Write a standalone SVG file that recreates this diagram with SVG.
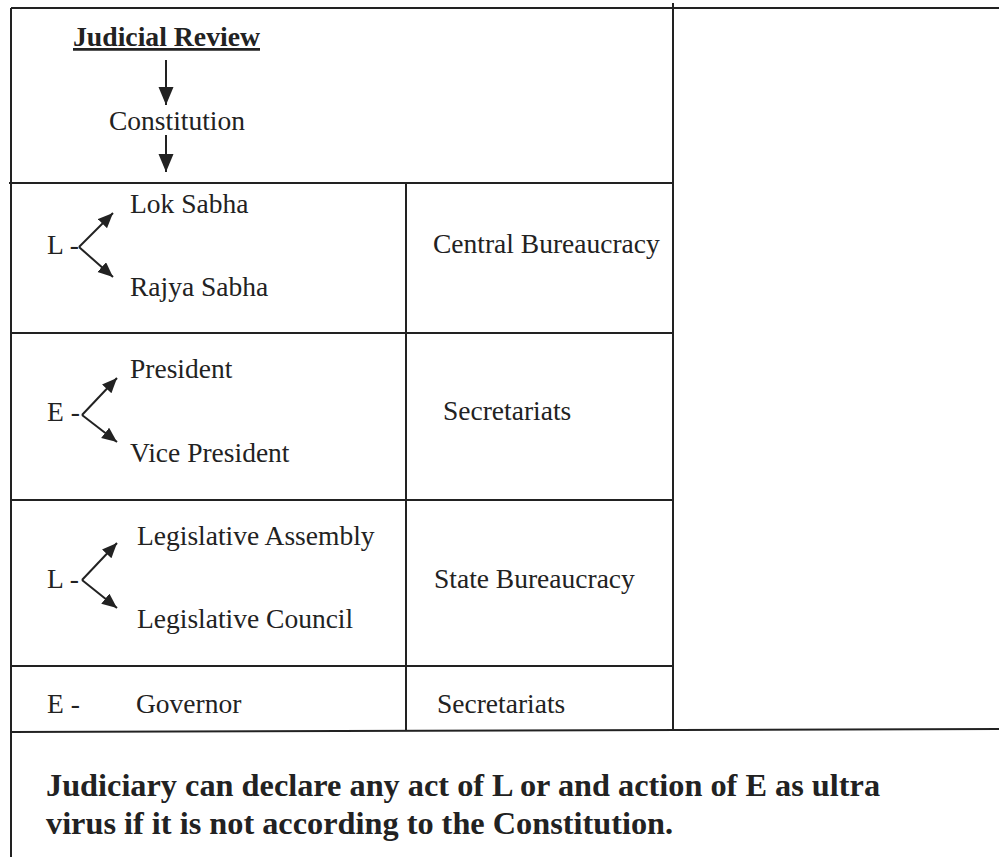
<svg xmlns="http://www.w3.org/2000/svg" width="999" height="857" viewBox="0 0 999 857">
<style>
.ln{stroke:#222;stroke-width:2;fill:none}
.t{font-family:"Liberation Serif","Times New Roman",serif;font-size:27.5px;fill:#222}
.b{font-family:"Liberation Serif","Times New Roman",serif;font-weight:bold;fill:#222}
.ar{stroke:#222;stroke-width:2;fill:none}
</style>
<defs>
<marker id="ah" markerUnits="userSpaceOnUse" markerWidth="19" markerHeight="17" refX="18" refY="7.5" orient="auto">
<path d="M0,0 L18,7.5 L0,15 z" fill="#222"/>
</marker>
<marker id="ahs" markerUnits="userSpaceOnUse" markerWidth="16" markerHeight="14" refX="15" refY="6.5" orient="auto">
<path d="M0,0 L15,6.5 L0,13 z" fill="#222"/>
</marker>
</defs>
<rect width="999" height="857" fill="#fff"/>
<g id="grid">
<line class="ln" x1="11" y1="8" x2="999" y2="8"/>
<line class="ln" x1="11" y1="8" x2="11" y2="857"/>
<line class="ln" x1="673" y1="3" x2="673" y2="730"/>
<line class="ln" x1="9" y1="183" x2="673" y2="183"/>
<line class="ln" x1="11" y1="333" x2="673" y2="333"/>
<line class="ln" x1="11" y1="500" x2="673" y2="500"/>
<line class="ln" x1="11" y1="666" x2="673" y2="666"/>
<line class="ln" x1="406" y1="183" x2="406" y2="730"/>
<line class="ln" x1="11" y1="732" x2="999" y2="729"/>
</g>
<g id="connectors">
<line class="ar" x1="166" y1="60" x2="166" y2="105" marker-end="url(#ah)"/>
<line class="ar" x1="166" y1="135" x2="166" y2="172" marker-end="url(#ah)"/>
<line class="ar" x1="79" y1="247" x2="113" y2="213" marker-end="url(#ahs)"/>
<line class="ar" x1="79" y1="247" x2="113" y2="277" marker-end="url(#ahs)"/>
<line class="ar" x1="82" y1="415" x2="117" y2="378" marker-end="url(#ahs)"/>
<line class="ar" x1="82" y1="415" x2="117" y2="442" marker-end="url(#ahs)"/>
<line class="ar" x1="82" y1="580" x2="117" y2="543" marker-end="url(#ahs)"/>
<line class="ar" x1="82" y1="580" x2="117" y2="608" marker-end="url(#ahs)"/>
</g>
<g id="judicial-review">
<text class="b" x="73" y="46" font-size="27.5" text-decoration="underline" textLength="187" lengthAdjust="spacingAndGlyphs">Judicial Review</text>
</g>
<g id="constitution">
<text class="t" x="109" y="130">Constitution</text>
</g>
<g id="union-legislature">
<text class="t" x="47" y="254">L -</text>
<text class="t" x="130" y="213">Lok Sabha</text>
<text class="t" x="130" y="296">Rajya Sabha</text>
</g>
<g id="central-bureaucracy">
<text class="t" x="433" y="253">Central Bureaucracy</text>
</g>
<g id="union-executive">
<text class="t" x="47" y="421">E -</text>
<text class="t" x="130" y="378">President</text>
<text class="t" x="130" y="462">Vice President</text>
</g>
<g id="secretariats-1">
<text class="t" x="443" y="420">Secretariats</text>
</g>
<g id="state-legislature">
<text class="t" x="47" y="588">L -</text>
<text class="t" x="137" y="545">Legislative Assembly</text>
<text class="t" x="137" y="628">Legislative Council</text>
</g>
<g id="state-bureaucracy">
<text class="t" x="434" y="588">State Bureaucracy</text>
</g>
<g id="state-executive">
<text class="t" x="47" y="713">E -</text>
<text class="t" x="136" y="713">Governor</text>
</g>
<g id="secretariats-2">
<text class="t" x="437" y="713">Secretariats</text>
</g>
<g id="note">
<text class="b" x="46" y="796" font-size="32.3">Judiciary can declare any act of L or and action of E as ultra</text>
<text class="b" x="46" y="834" font-size="32.3">virus if it is not according to the Constitution.</text>
</g>
</svg>
